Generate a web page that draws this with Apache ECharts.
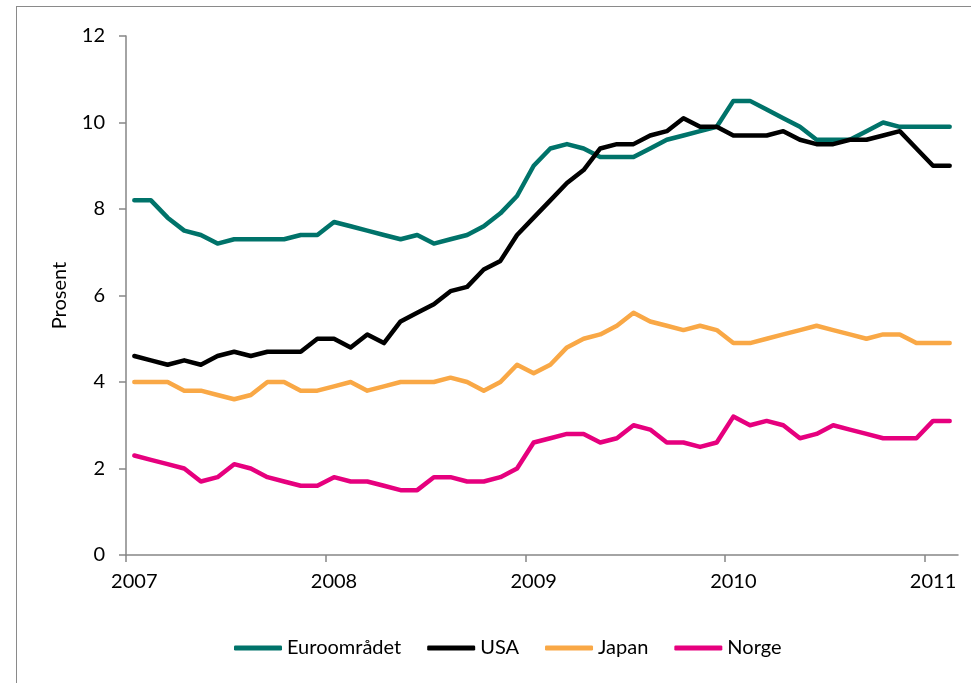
<!DOCTYPE html>
<html>
<head>
<meta charset="utf-8">
<title>Arbeidsledighet</title>
<script src="https://cdn.jsdelivr.net/npm/echarts@6.0.0/dist/echarts.min.js"></script>
<style>
    html, body { margin: 0; padding: 0; background: #fff; }
    #main { position: absolute; left: 0; top: 0; width: 971px; height: 683px; }
    /* ramme rundt figuren, bare venstre og øvre kant synes */
    #frame { position: absolute; left: 16px; top: 6px; width: 2000px; height: 2000px;
             border-left: 1px solid #8a8a8a; border-top: 1px solid #8a8a8a; pointer-events: none; }
</style>
</head>
<body>
<div id="frame"></div>
<div id="main"></div>
<script>
    // månedlige tall, jan 2007 - feb 2011
    var years = ['2007', '2008', '2009', '2010', '2011'];
    var monthNames = ['01','02','03','04','05','06','07','08','09','10','11','12'];
    var lastYearMonths = 2;

    var euro = [
        8.2, 8.2, 7.8, 7.5, 7.4, 7.2, 7.3, 7.3, 7.3, 7.3, 7.4, 7.4,
        7.7, 7.6, 7.5, 7.4, 7.3, 7.4, 7.2, 7.3, 7.4, 7.6, 7.9, 8.3,
        9.0, 9.4, 9.5, 9.4, 9.2, 9.2, 9.2, 9.4, 9.6, 9.7, 9.8, 9.9,
        10.5, 10.5, 10.3, 10.1, 9.9, 9.6, 9.6, 9.6, 9.8, 10.0, 9.9, 9.9,
        9.9, 9.9
    ];
    var usa = [
        4.6, 4.5, 4.4, 4.5, 4.4, 4.6, 4.7, 4.6, 4.7, 4.7, 4.7, 5.0,
        5.0, 4.8, 5.1, 4.9, 5.4, 5.6, 5.8, 6.1, 6.2, 6.6, 6.8, 7.4,
        7.8, 8.2, 8.6, 8.9, 9.4, 9.5, 9.5, 9.7, 9.8, 10.1, 9.9, 9.9,
        9.7, 9.7, 9.7, 9.8, 9.6, 9.5, 9.5, 9.6, 9.6, 9.7, 9.8, 9.4,
        9.0, 9.0
    ];
    var japan = [
        4.0, 4.0, 4.0, 3.8, 3.8, 3.7, 3.6, 3.7, 4.0, 4.0, 3.8, 3.8,
        3.9, 4.0, 3.8, 3.9, 4.0, 4.0, 4.0, 4.1, 4.0, 3.8, 4.0, 4.4,
        4.2, 4.4, 4.8, 5.0, 5.1, 5.3, 5.6, 5.4, 5.3, 5.2, 5.3, 5.2,
        4.9, 4.9, 5.0, 5.1, 5.2, 5.3, 5.2, 5.1, 5.0, 5.1, 5.1, 4.9,
        4.9, 4.9
    ];
    var norge = [
        2.3, 2.2, 2.1, 2.0, 1.7, 1.8, 2.1, 2.0, 1.8, 1.7, 1.6, 1.6,
        1.8, 1.7, 1.7, 1.6, 1.5, 1.5, 1.8, 1.8, 1.7, 1.7, 1.8, 2.0,
        2.6, 2.7, 2.8, 2.8, 2.6, 2.7, 3.0, 2.9, 2.6, 2.6, 2.5, 2.6,
        3.2, 3.0, 3.1, 3.0, 2.7, 2.8, 3.0, 2.9, 2.8, 2.7, 2.7, 2.7,
        3.1, 3.1
    ];

    var months = [];
    years.forEach(function (y, i) {
        var n = (i === years.length - 1) ? lastYearMonths : 12;
        for (var m = 0; m < n; m++) months.push(y + '-' + monthNames[m]);
    });
    // årsskifter (index for januar), brukes til tick-merkene
    var yearStarts = [];
    months.forEach(function (m, i) { if (m.slice(5) === '01') yearStarts.push(i); });

    var font = 'Lato, "Noto Sans", sans-serif';
    var axisGray = '#868686';

    var myChart = echarts.init(document.getElementById('main'), null, { renderer: 'canvas' });

    var option = {
        animation: false,
        textStyle: { fontFamily: font },
        grid: { left: 126, right: 13, top: 36, bottom: 128 },
        legend: {
            left: 229,
            top: 633,
            itemWidth: 48,
            itemHeight: 5,
            itemGap: 26,
            icon: 'roundRect',
            textStyle: { fontFamily: font, fontSize: 20, color: '#000' },
            data: ['Euroområdet', 'USA', 'Japan', 'Norge']
        },
        xAxis: [
            {
                type: 'category',
                boundaryGap: true,
                data: months,
                axisLine: { lineStyle: { color: axisGray, width: 1.5 } },
                axisTick: { show: false },
                axisLabel: {
                    interval: function (index) { return index % 12 === 0; },
                    formatter: function (v) { return v.slice(0, 4); },
                    fontFamily: font,
                    fontSize: 20,
                    color: '#000',
                    margin: 17
                },
                splitLine: { show: false }
            },
            {
                // bare for tick-merkene ved årsskiftet
                type: 'value',
                position: 'bottom',
                min: 0,
                max: months.length,
                axisLine: { show: false },
                axisLabel: { show: false },
                splitLine: { show: false },
                axisTick: {
                    show: true,
                    length: 7,
                    customValues: yearStarts,
                    lineStyle: { color: axisGray, width: 1.5 }
                }
            }
        ],
        yAxis: {
            type: 'value',
            min: 0,
            max: 12,
            interval: 2,
            name: 'Prosent',
            nameLocation: 'middle',
            nameGap: 56,
            nameTextStyle: { fontFamily: font, fontSize: 20, color: '#000' },
            axisLine: { show: true, lineStyle: { color: axisGray, width: 1.5 } },
            axisTick: { show: true, length: 7, lineStyle: { color: axisGray, width: 1.5 } },
            axisLabel: { fontFamily: font, fontSize: 20, color: '#000', margin: 21 },
            splitLine: { show: false }
        },
        series: [
            { name: 'Euroområdet', type: 'line', data: euro, color: '#00736A' },
            { name: 'USA', type: 'line', data: usa, color: '#000000' },
            { name: 'Japan', type: 'line', data: japan, color: '#F9A846' },
            { name: 'Norge', type: 'line', data: norge, color: '#E6007E' }
        ].map(function (s) {
            s.symbol = 'none';
            s.xAxisIndex = 0;
            s.lineStyle = { width: 4.5, cap: 'round', join: 'round' };
            return s;
        })
    };

    myChart.setOption(option);
</script>
</body>
</html>
